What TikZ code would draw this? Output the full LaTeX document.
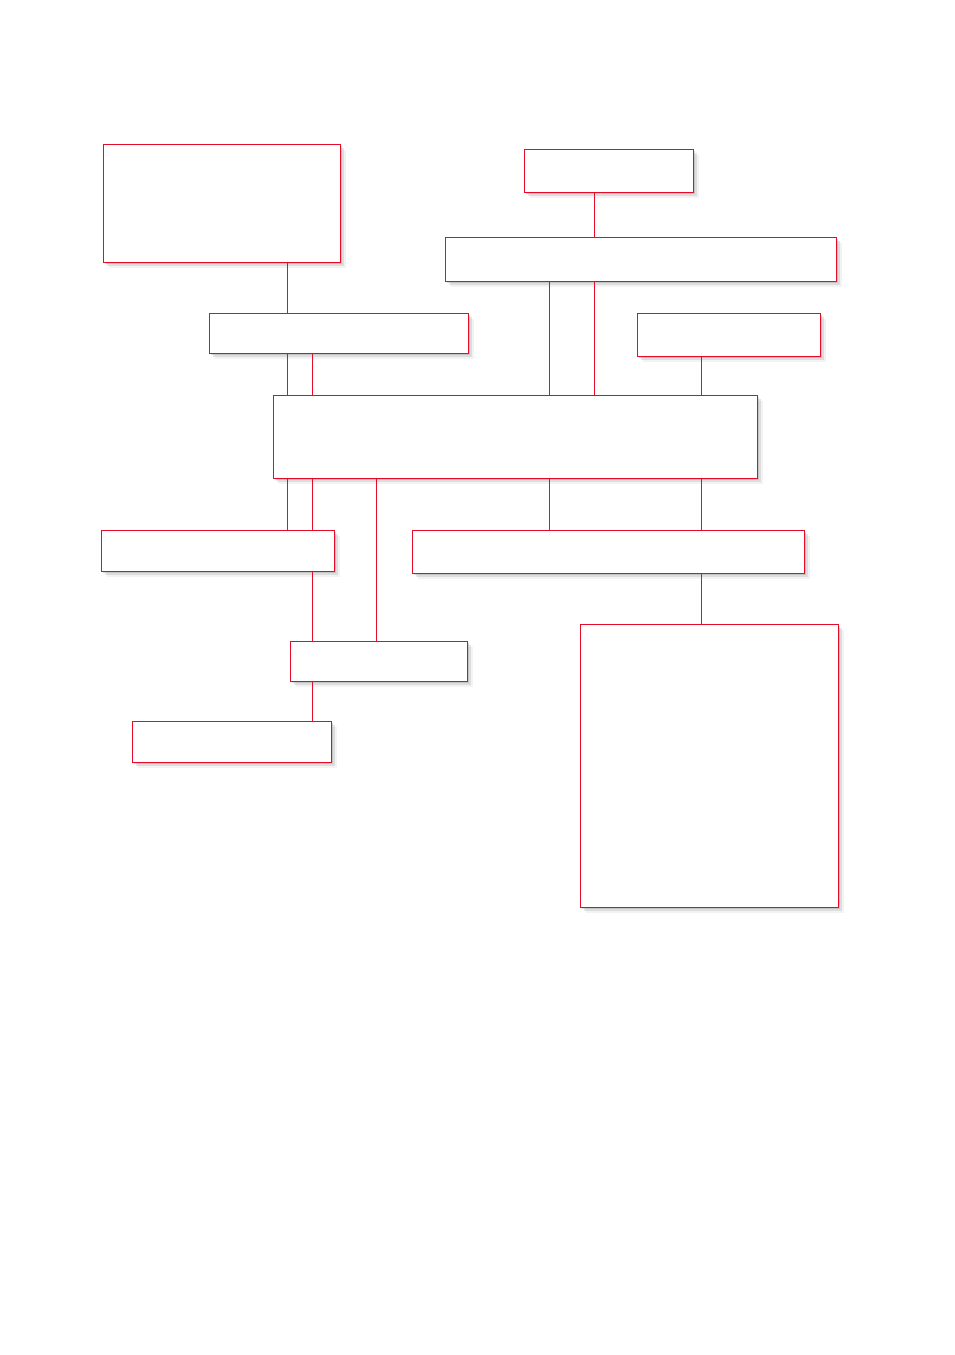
\documentclass[tikz,border=0pt]{standalone}
\usetikzlibrary{shadows}
\definecolor{boxred}{RGB}{228,12,40}

\begin{document}
\begin{tikzpicture}[x=1pt, y=-1pt,
	box/.style={draw=boxred, fill=white, line width=0.8pt, inner sep=0pt, rectangle,
		drop shadow={shadow xshift=2pt, shadow yshift=-2pt, fill=black!45, opacity=0.3},
		drop shadow={shadow xshift=4pt, shadow yshift=-4pt, fill=black!45, opacity=0.22},
		drop shadow={shadow xshift=6pt, shadow yshift=-6pt, fill=black!45, opacity=0.1}},
	link/.style={draw=boxred, line width=0.9pt}]
	\useasboundingbox (0, 0) rectangle (955, 1355);

	\node [box, minimum width=237pt, minimum height=118pt] (top) at (221.5, 203) {};
	\node [box, minimum width=169pt, minimum height=43pt] (head) at (608.5, 170.5) {};
	\node [box, minimum width=391pt, minimum height=44pt] (upper) at (640.5, 259) {};
	\node [box, minimum width=259pt, minimum height=40pt] (left) at (338.5, 333) {};
	\node [box, minimum width=183pt, minimum height=43pt] (right) at (728.5, 334.5) {};
	\node [box, minimum width=484pt, minimum height=83pt] (core) at (515, 436.5) {};
	\node [box, minimum width=233pt, minimum height=41pt] (lower) at (217.5, 550.5) {};
	\node [box, minimum width=392pt, minimum height=43pt] (wide) at (608, 551.5) {};
	\node [box, minimum width=177pt, minimum height=40pt] (mid) at (378.5, 661) {};
	\node [box, minimum width=199pt, minimum height=41pt] (foot) at (231.5, 741.5) {};
	\node [box, minimum width=258pt, minimum height=283pt] (tall) at (709, 765.5) {};

	% links
	\draw [link] (287, 0 |- top.south) -- (287, 0 |- left.north);
	\draw [link] (594, 0 |- head.south) -- (594, 0 |- upper.north);
	\foreach \x in {287, 312} {
		\draw [link] (\x, 0 |- left.south) -- (\x, 0 |- core.north);
		\draw [link] (\x, 0 |- core.south) -- (\x, 0 |- lower.north);
	}
	\foreach \x in {549, 594} {
		\draw [link] (\x, 0 |- upper.south) -- (\x, 0 |- core.north);
	}
	\draw [link] (701, 0 |- right.south) -- (701, 0 |- core.north);
	\draw [link] (376, 0 |- core.south) -- (376, 0 |- mid.north);
	\foreach \x in {549, 701} {
		\draw [link] (\x, 0 |- core.south) -- (\x, 0 |- wide.north);
	}
	\draw [link] (312, 0 |- lower.south) -- (312, 0 |- mid.north);
	\draw [link] (701, 0 |- wide.south) -- (701, 0 |- tall.north);
	\draw [link] (312, 0 |- mid.south) -- (312, 0 |- foot.north);
\end{tikzpicture}
\end{document}
